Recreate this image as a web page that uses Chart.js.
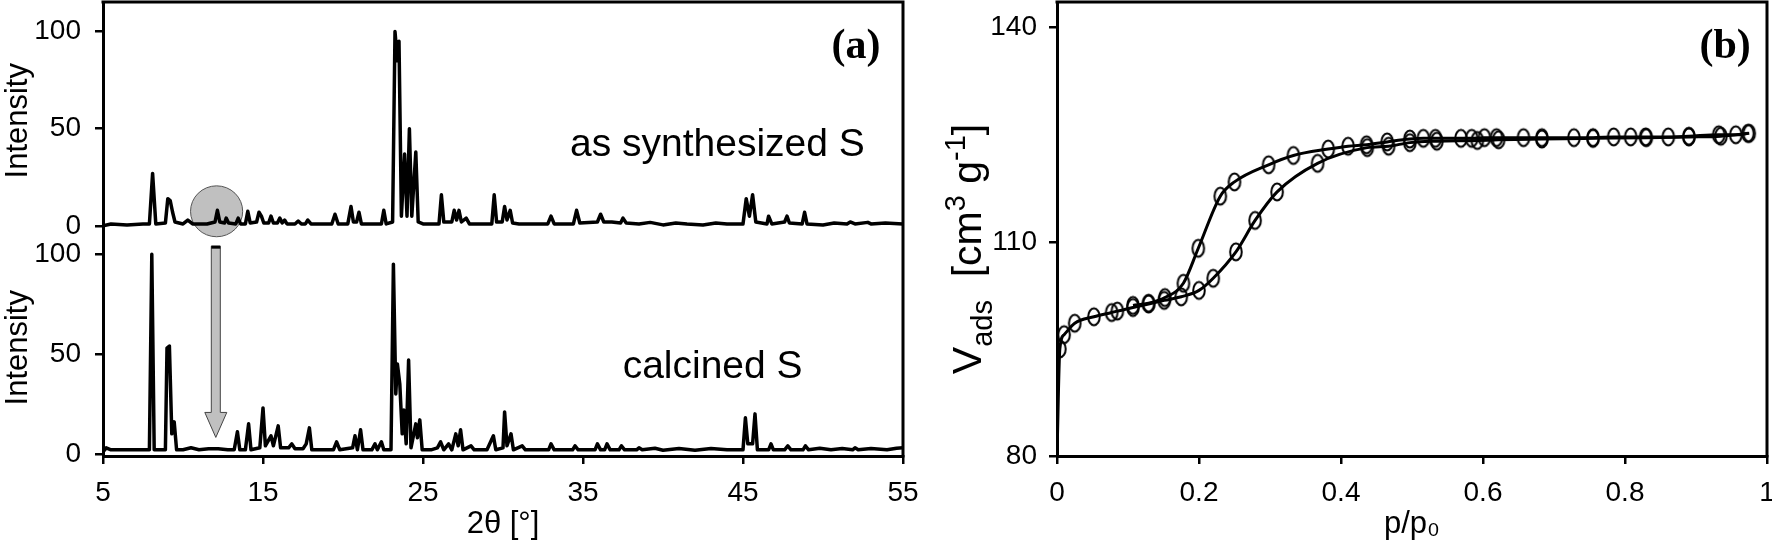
<!DOCTYPE html>
<html><head><meta charset="utf-8">
<script src="https://cdn.jsdelivr.net/npm/chart.js@4.4.1/dist/chart.umd.min.js"></script>
<style>
html,body{margin:0;padding:0;background:#fff;}
#wrap{position:relative;width:1772px;height:543px;overflow:hidden;background:#fff;}
#ca{position:absolute;left:0;top:0;}
#cb{position:absolute;left:935px;top:0;}
</style></head><body>
<div id="wrap"><canvas id="ca" width="935" height="543"></canvas><canvas id="cb" width="837" height="543"></canvas></div>
<script>
// ---------- data: panel (a) XRD ----------
const synthTheta = [5.0, 5.5, 6.5, 7.5, 7.9, 8.1, 8.3, 8.9, 9.05, 9.2,
 9.35, 9.5, 10.0, 10.3, 10.6, 11.5, 12.0, 12.15, 12.3, 12.6,
 12.7, 12.85, 13.3, 13.45, 13.6, 13.9, 14.05, 14.2, 14.6, 14.75,
 14.9, 15.05, 15.35, 15.5, 15.65, 15.9, 16.05, 16.2, 16.35, 16.5,
 17.0, 17.2, 17.4, 17.65, 17.8, 18.0, 19.3, 19.5, 19.7, 20.3,
 20.5, 20.65, 20.85, 21.0, 21.15, 21.7, 22.4, 22.55, 22.7, 23.1,
 23.25, 23.4, 23.5, 23.65, 23.85, 24.0, 24.15, 24.3, 24.55, 24.7,
 25.0, 26.0, 26.15, 26.3, 26.8, 26.95, 27.1, 27.25, 27.4, 27.7,
 27.9, 28.5, 29.3, 29.45, 29.6, 29.95, 30.1, 30.25, 30.45, 30.6,
 31.0, 32.8, 33.0, 33.2, 34.4, 34.6, 34.8, 35.9, 36.1, 36.3,
 36.8, 37.35, 37.5, 37.7, 38.5, 39.2, 40.0, 40.8, 41.5, 42.5,
 43.3, 44.0, 45.0, 45.2, 45.4, 45.6, 45.8, 46.5, 46.6, 46.8,
 47.6, 47.75, 47.9, 48.7, 48.85, 49.0, 50.0, 50.7, 51.5, 51.7,
 52.0, 52.8, 53.0, 53.9, 55.0];
const synthIntensity = [0, 1, 0.5, 1, 1, 27, 1, 1.5, 14, 13,
 7, 2, 1, 3, 1, 1, 2, 8, 2, 1.5,
 4, 1.5, 1, 4, 1, 1, 7.5, 1.5, 2, 7,
 5, 1.5, 1.5, 5, 1.5, 1.5, 4, 1.5, 3, 1,
 1, 2.5, 1, 1, 3, 1, 1, 6, 1, 1,
 10, 2, 2, 7, 1, 1, 1, 8, 1, 2,
 100, 85, 95, 5, 37, 5, 50, 5, 38, 2,
 1, 1, 16, 2, 2, 8, 3, 8, 2, 4,
 1, 1, 1, 16, 2, 2, 10, 3, 8, 1.5,
 1, 1, 5, 1, 1, 8, 1.5, 2, 6, 2,
 2, 1.5, 4, 1.5, 1, 1.8, 0.5, 1.5, 1, 0.5,
 1.5, 1, 1, 14, 5, 16, 2, 1, 5, 1,
 2, 5, 1.5, 1, 7, 1, 0.5, 1.5, 1, 2,
 1, 1.8, 1, 1.5, 1];
const calcTheta = [5.0, 5.2, 5.5, 6.5, 7.5, 7.9, 8.05, 8.2, 8.9, 9.0,
 9.15, 9.3, 9.45, 9.6, 10.0, 10.5, 11.0, 11.6, 12.2, 12.8,
 13.2, 13.4, 13.55, 13.9, 14.1, 14.25, 14.8, 15.0, 15.15, 15.5,
 15.65, 15.95, 16.1, 16.6, 16.8, 17.0, 17.5, 17.7, 17.9, 18.05,
 18.8, 19.4, 19.6, 19.8, 20.6, 20.75, 20.9, 21.1, 21.25, 21.8,
 22.0, 22.15, 22.4, 22.55, 23.0, 23.15, 23.3, 23.4, 23.55, 23.7,
 23.8, 23.95, 24.1, 24.25, 24.55, 24.65, 24.8, 24.95, 25.5, 25.9,
 26.1, 26.3, 26.6, 26.8, 27.05, 27.2, 27.35, 27.5, 28.0, 28.2,
 29.0, 29.4, 29.55, 30.0, 30.1, 30.25, 30.5, 30.65, 31.2, 31.4,
 32.85, 33.0, 33.2, 34.35, 34.5, 34.7, 35.75, 35.9, 36.1, 36.35,
 36.5, 36.7, 37.25, 37.4, 37.6, 38.35, 38.5, 38.7, 39.5, 40.0,
 41.0, 42.0, 43.0, 44.0, 45.0, 45.15, 45.3, 45.6, 45.75, 45.9,
 46.6, 46.75, 46.9, 47.6, 47.8, 48.0, 48.75, 48.9, 49.1, 49.8,
 50.5, 51.2, 51.85, 52.0, 52.2, 53.0, 54.0, 54.6, 55.0];
const calcIntensity = [1, 3, 2, 2, 2, 2, 100, 2, 2, 53,
 54, 10, 16, 2, 2, 3, 2, 2.5, 2.5, 2,
 2, 11, 2, 2, 15, 2, 3, 23, 4, 9,
 4, 14, 3, 3, 5, 2.5, 2.5, 5, 13, 2,
 2, 2, 6, 2, 3, 9, 2, 12, 2, 2,
 5, 2, 6, 2, 2, 95, 30, 45, 35, 10,
 22, 5, 47, 3, 15, 8, 17, 2, 2, 3,
 6, 2, 5, 2, 10, 4, 12, 2, 4, 2,
 2, 9, 2, 3, 21, 4, 10, 2, 4, 2,
 2, 5, 2, 2, 4, 2, 2, 5, 2, 2,
 5, 2, 2, 4, 2, 2, 3, 2, 2.8, 1.8,
 2.6, 1.8, 2.7, 2, 2, 18, 5, 5, 20, 2,
 2, 5, 2, 2, 4, 2, 2, 4, 2, 2.8,
 2, 2.6, 2, 3, 2, 2.6, 2, 2.8, 3];
const xrdTicks = [5, 15, 25, 35, 45, 55];
const intensityTicks = [0, 25, 50, 75, 100];

// ---------- data: panel (b) N2 isotherm ----------
const adsP = [0, 0.004, 0.01, 0.025, 0.052, 0.077, 0.085, 0.107, 0.129, 0.151,
 0.175, 0.2, 0.22, 0.252, 0.279, 0.31, 0.367, 0.437, 0.467, 0.497,
 0.535, 0.592, 0.622, 0.683, 0.755, 0.83, 0.89, 0.935, 0.975];
const adsV = [80, 95.0, 97.0, 98.6, 99.5, 100.1, 100.3, 100.8, 101.3, 101.8,
 102.3, 103.2, 104.9, 108.6, 113.0, 117.0, 121.0, 123.2, 123.4, 123.9,
 124.1, 124.2, 124.3, 124.4, 124.5, 124.6, 124.7, 124.8, 125.2];
const desP = [0.107, 0.129, 0.152, 0.178, 0.199, 0.23, 0.25, 0.298, 0.333, 0.382,
 0.41, 0.436, 0.465, 0.497, 0.516, 0.533, 0.569, 0.584, 0.602, 0.619,
 0.657, 0.683, 0.728, 0.755, 0.784, 0.808, 0.829, 0.861, 0.89, 0.932,
 0.956, 0.973];
const desV = [101.1, 101.4, 102.2, 104.2, 109.1, 116.4, 118.4, 120.8, 122.1, 123.0,
 123.4, 123.6, 124.0, 124.4, 124.5, 124.5, 124.5, 124.5, 124.6, 124.6,
 124.6, 124.6, 124.6, 124.6, 124.7, 124.7, 124.7, 124.7, 124.8, 125.0,
 125.0, 125.2];
const isoXTicks = [0, 0.2, 0.4, 0.6, 0.8, 1];
const isoYTicks = [80, 110, 140];

// ---------- annotations (data coordinates) ----------
const circleMark = {theta: 12.1, intensity: 7.5, halfTheta: 1.63, halfIntensity: 13.1};
const arrowMark = {theta: 12.05, from: 104, to: 8.2};
const textA = [
  {text: 'as synthesized S', theta: 43.4, value: 41.7, axis: 'yTop'},
  {text: 'calcined S', theta: 43.1, value: 43.6, axis: 'yBot'}
];
const labelA = {text: '(a)', theta: 52.06, value: 91.8};
const labelB = {text: '(b)', p: 0.941, v: 137.3};

// ---------- styling helpers ----------
const SANS = "'Liberation Sans', Arial, sans-serif";
const SERIF = "'Liberation Serif', 'Times New Roman', serif";
const TICK_FONT = {family: SANS, size: 28};
const TITLE_FONT = {family: SANS, size: 31};
const LW = 3;

function pts(xs, ys) { return xs.map((x, i) => ({x: x, y: ys[i]})); }
function fixTicks(vals) { return (s) => { s.ticks = vals.map(v => ({value: v})); }; }

const framePlugin = {
  id: 'frame',
  afterDraw(chart) {
    const {ctx, chartArea: a} = chart;
    ctx.save();
    ctx.strokeStyle = '#000'; ctx.lineWidth = LW; ctx.lineCap = 'square';
    ctx.beginPath();
    ctx.moveTo(a.left, a.top); ctx.lineTo(a.right, a.top); ctx.lineTo(a.right, a.bottom);
    ctx.stroke();
    ctx.restore();
  }
};

const marksA = {
  id: 'marksA',
  beforeDatasetsDraw(chart) {
    const {ctx, scales} = chart;
    const x = scales.x, y = scales.yTop;
    const cx = x.getPixelForValue(circleMark.theta), cy = y.getPixelForValue(circleMark.intensity);
    const rx = Math.abs(x.getPixelForValue(circleMark.theta + circleMark.halfTheta) - cx);
    const ry = Math.abs(y.getPixelForValue(circleMark.intensity + circleMark.halfIntensity) - cy);
    ctx.save();
    ctx.beginPath(); ctx.ellipse(cx, cy, rx, ry, 0, 0, 2 * Math.PI);
    ctx.fillStyle = '#c0c0c0'; ctx.fill();
    ctx.lineWidth = 1; ctx.strokeStyle = '#555'; ctx.stroke();
    ctx.restore();
  },
  afterDatasetsDraw(chart) {
    const {ctx, scales} = chart;
    const x = scales.x, y = scales.yBot;
    const ax = x.getPixelForValue(arrowMark.theta);
    const y0 = y.getPixelForValue(arrowMark.from), y1 = y.getPixelForValue(arrowMark.to);
    const sw = 4.5, hw = 11, hl = 25;
    ctx.save();
    ctx.beginPath();
    ctx.moveTo(ax - sw, y0); ctx.lineTo(ax + sw, y0); ctx.lineTo(ax + sw, y1 - hl);
    ctx.lineTo(ax + hw, y1 - hl); ctx.lineTo(ax, y1); ctx.lineTo(ax - hw, y1 - hl);
    ctx.lineTo(ax - sw, y1 - hl); ctx.closePath();
    ctx.fillStyle = '#c0c0c0'; ctx.fill();
    ctx.lineWidth = 1; ctx.strokeStyle = '#444'; ctx.stroke();
    ctx.beginPath(); ctx.moveTo(ax - sw, y0 + 1); ctx.lineTo(ax + sw, y0 + 1);
    ctx.lineWidth = 3; ctx.strokeStyle = '#000'; ctx.stroke();
    ctx.restore();
  },
  afterDraw(chart) {
    const {ctx, scales} = chart;
    ctx.save();
    ctx.fillStyle = '#000'; ctx.textAlign = 'center'; ctx.textBaseline = 'middle';
    ctx.font = '39px ' + SANS;
    textA.forEach(t => ctx.fillText(t.text, scales.x.getPixelForValue(t.theta), scales[t.axis].getPixelForValue(t.value)));
    ctx.font = 'bold 42px ' + SERIF;
    ctx.fillText(labelA.text, scales.x.getPixelForValue(labelA.theta), scales.yTop.getPixelForValue(labelA.value));
    ctx.restore();
  }
};

function yAxisA(min, max, weight) {
  return {
    type: 'linear', position: 'left', stack: 'xrd', stackWeight: weight,
    min: min, max: max,
    afterBuildTicks: fixTicks(intensityTicks),
    afterFit(s) { s.width = 103; s.paddingTop = 0; s.paddingBottom = 0; },
    ticks: {font: TICK_FONT, color: '#000', padding: 14, callback: v => (v % 50 === 0 ? String(v) : '')},
    grid: {drawOnChartArea: false, drawTicks: true, tickLength: 8, color: '#000', lineWidth: 2.5},
    border: {display: true, color: '#000', width: LW},
    title: {display: true, text: 'Intensity', font: TITLE_FONT, color: '#000', padding: {top: 0, bottom: 0}}
  };
}

new Chart(document.getElementById('ca'), {
  type: 'scatter',
  data: {
    datasets: [
      {label: 'as synthesized S', data: pts(synthTheta, synthIntensity), yAxisID: 'yTop', showLine: true,
       borderColor: '#000', borderWidth: 3.5, pointRadius: 0, tension: 0, borderJoinStyle: 'round'},
      {label: 'calcined S', data: pts(calcTheta, calcIntensity), yAxisID: 'yBot', showLine: true,
       borderColor: '#000', borderWidth: 3.5, pointRadius: 0, tension: 0, borderJoinStyle: 'round'}
    ]
  },
  options: {
    responsive: false, animation: false, devicePixelRatio: 1,
    layout: {padding: {top: 2, right: 32, left: 0, bottom: 0}, autoPadding: false},
    plugins: {legend: {display: false}, tooltip: {enabled: false}},
    scales: {
      x: {
        type: 'linear', position: 'bottom', min: 5, max: 55,
        afterBuildTicks: fixTicks(xrdTicks),
        afterFit(s) { s.height = 87; s.paddingLeft = 0; s.paddingRight = 0; },
        ticks: {font: TICK_FONT, color: '#000', padding: 12, maxRotation: 0},
        grid: {drawOnChartArea: false, drawTicks: true, tickLength: 8, color: '#000', lineWidth: 2.5},
        border: {display: true, color: '#000', width: LW},
        title: {display: true, text: '2θ [°]', font: TITLE_FONT, color: '#000', padding: {top: 0, bottom: 0}}
      },
      yBot: yAxisA(-1.1, 107.35, 217),
      yTop: yAxisA(-7, 115.2, 238)
    }
  },
  plugins: [framePlugin, marksA]
});

// ---------- panel (b) ----------
function ellipseMarker() {
  const c = document.createElement('canvas');
  c.width = 16; c.height = 22;
  const g = c.getContext('2d');
  g.lineWidth = 2; g.strokeStyle = '#000';
  g.beginPath(); g.ellipse(8, 11, 5.8, 8.4, 0, 0, 2 * Math.PI); g.stroke();
  return c;
}
const marker = ellipseMarker();

const marksB = {
  id: 'marksB',
  afterDraw(chart) {
    const {ctx, scales, chartArea} = chart;
    ctx.save();
    ctx.fillStyle = '#000';
    ctx.font = 'bold 42px ' + SERIF; ctx.textAlign = 'center'; ctx.textBaseline = 'middle';
    ctx.fillText(labelB.text, scales.x.getPixelForValue(labelB.p), scales.y.getPixelForValue(labelB.v));
    // y-axis title with sub/superscripts
    const base = 41, small = 29;
    const pieces = [['V', base, 0], ['ads', small, 11], ['  [cm', base, 0], ['3', small, -16], [' g', base, 0], ['-1', small, -16], [']', base, 0]];
    let total = 0;
    pieces.forEach(p => { ctx.font = p[1] + 'px ' + SANS; total += ctx.measureText(p[0]).width; });
    ctx.translate(31, (chartArea.top + chartArea.bottom) / 2 + 20);
    ctx.rotate(-Math.PI / 2);
    ctx.textAlign = 'left'; ctx.textBaseline = 'alphabetic';
    let px = -total / 2;
    pieces.forEach(p => {
      ctx.font = p[1] + 'px ' + SANS;
      ctx.fillText(p[0], px, 0.36 * base + p[2]);
      px += ctx.measureText(p[0]).width;
    });
    ctx.restore();
  }
};

new Chart(document.getElementById('cb'), {
  type: 'scatter',
  data: {
    datasets: [
      {label: 'adsorption', data: pts(adsP, adsV), showLine: true, borderColor: '#000', borderWidth: 3,
       cubicInterpolationMode: 'monotone', pointStyle: marker, pointRadius: c => (c.dataIndex === 0 ? 0 : 5)},
      {label: 'desorption', data: pts(desP, desV), showLine: true, borderColor: '#000', borderWidth: 3,
       cubicInterpolationMode: 'monotone', pointStyle: marker, pointRadius: 5}
    ]
  },
  options: {
    responsive: false, animation: false, devicePixelRatio: 1,
    layout: {padding: {top: 2, right: 5, left: 0, bottom: 0}, autoPadding: false},
    plugins: {legend: {display: false}, tooltip: {enabled: false}},
    scales: {
      x: {
        type: 'linear', position: 'bottom', min: 0, max: 1,
        afterBuildTicks: fixTicks(isoXTicks),
        afterFit(s) { s.height = 87; s.paddingLeft = 0; s.paddingRight = 0; },
        ticks: {font: TICK_FONT, color: '#000', padding: 12, maxRotation: 0,
                callback: v => (v === 0 ? '0' : v === 1 ? '1' : v.toFixed(1))},
        grid: {drawOnChartArea: false, drawTicks: true, tickLength: 8, color: '#000', lineWidth: 2.5},
        border: {display: true, color: '#000', width: LW},
        title: {display: true, text: 'p/p₀', font: TITLE_FONT, color: '#000', padding: {top: 0, bottom: 0}}
      },
      y: {
        type: 'linear', position: 'left', min: 80, max: 143.6,
        afterBuildTicks: fixTicks(isoYTicks),
        afterFit(s) { s.width = 122; s.paddingTop = 0; s.paddingBottom = 0; },
        ticks: {font: TICK_FONT, color: '#000', padding: 12},
        grid: {drawOnChartArea: false, drawTicks: true, tickLength: 8, color: '#000', lineWidth: 2.5},
        border: {display: true, color: '#000', width: LW},
        title: {display: false}
      }
    }
  },
  plugins: [framePlugin, marksB]
});
</script>
</body></html>
